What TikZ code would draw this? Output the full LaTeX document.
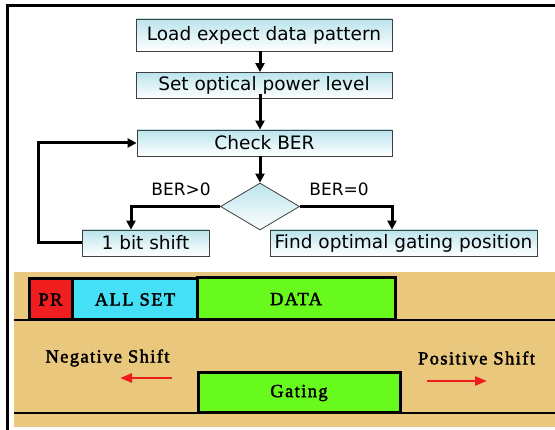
\documentclass[tikz,border=0pt]{standalone}
\usepackage{fontspec}
\newfontfamily\flowfont{DejaVu Sans}
\newfontfamily\slotfont[LetterSpace=7.5, FakeBold=2.2]{Liberation Serif}
\usetikzlibrary{arrows.meta, shapes.geometric}
\definecolor{boxtop}{RGB}{186,228,236}
\definecolor{sand}{RGB}{233,200,126}
\definecolor{prred}{RGB}{240,30,30}
\definecolor{setcyan}{RGB}{70,224,246}
\definecolor{datagreen}{RGB}{104,250,28}
\definecolor{shiftred}{RGB}{238,28,28}

\begin{document}
\begin{tikzpicture}[
  x=1pt, y=-1pt,
  every node/.style={font=\flowfont\fontsize{18.5}{21}\selectfont},
  proc/.style={draw=black!75, line width=0.8pt, top color=boxtop, bottom color=white,
    inner sep=0pt},
  dec/.style={diamond, draw=black!75, line width=0.8pt, top color=boxtop, bottom color=white,
    minimum width=79pt, minimum height=47pt, inner sep=0pt},
  flow/.style={line width=3pt, -{Triangle[length=9pt, width=9pt]}},
  cond/.style={font=\flowfont\fontsize{17}{20}\selectfont},
  slot/.style={draw=black, line width=3pt, inner sep=0pt,
    font=\slotfont\fontsize{18.5}{20}\selectfont},
  shiftlbl/.style={font=\slotfont\fontsize{18.5}{20}\selectfont},
  shiftarr/.style={draw=shiftred, line width=2.6pt, -{Triangle[length=12pt, width=9pt]}}
]
\useasboundingbox (0,0) rectangle (555,430);
\fill[white] (0,0) rectangle (555,430);

% Frame
\draw[line width=3pt] (7,431) -- (7,6) -- (556,6);

% Flow chart
\node[proc, minimum width=256pt, minimum height=32pt] (load)  at (264,35)    {Load expect data pattern};
\node[proc, minimum width=256pt, minimum height=26pt] (set)   at (264,85.5)  {Set optical power level};
\node[proc, minimum width=255pt, minimum height=26pt] (check) at (264.5,143) {Check BER};
\node[dec] (test) at (260,206.5) {};
\node[proc, minimum width=127pt, minimum height=26pt] (bit)  at (145.5,243) {1 bit shift};
\node[proc, minimum width=267pt, minimum height=26pt] (find) at (403.5,243) {Find optimal gating position};

\draw[flow] (load.south -| test.north) -- (set.north -| test.north);
\draw[flow] ([yshift=5pt]set.south -| test.north) -- (check.north -| test.north);
\draw[flow] (check.south -| test.north) -- (test.north);
\draw[flow] (test.west) -| ([xshift=-14.5pt]bit.north);
\draw[flow] (test.east) -| ([xshift=-11.5pt]find.north);
\draw[flow] (bit.west) -- ++(-43,0) |- (check.west);

\node[cond] (gt) at (181,189) {BER>0};
\node[cond] (eq) at (339,189) {BER=0};

% Time slots
\fill[sand] (14,272) rectangle (556,427);
\draw[line width=2.6pt] (14,320) -- (556,320);
\draw[line width=2.6pt] (14,413) -- (556,413);

\node[slot, fill=prred, minimum width=43pt, minimum height=41pt] (pr) at (50.5,299.5) {PR};
\node[slot, fill=setcyan, minimum width=126pt, minimum height=41pt] (allset) at (135,299.5) {ALL SET};
\node[slot, fill=datagreen, minimum width=198pt, minimum height=42pt] (data) at (296,299) {DATA};
\node[slot, fill=datagreen, minimum width=202pt, minimum height=40pt] (gate) at (299,393) {Gating};

% Shift directions
\node[shiftlbl] (neg) at (107.5,358) {Negative Shift};
\node[shiftlbl] (pos) at (476.5,358) {Positive Shift};
\coordinate (negA) at (172,378);
\coordinate (negB) at (120,378);
\coordinate (posA) at (427,381);
\coordinate (posB) at (487,381);
\draw[shiftarr] (negA) -- (negB);
\draw[shiftarr] (posA) -- (posB);

\end{tikzpicture}
\end{document}
